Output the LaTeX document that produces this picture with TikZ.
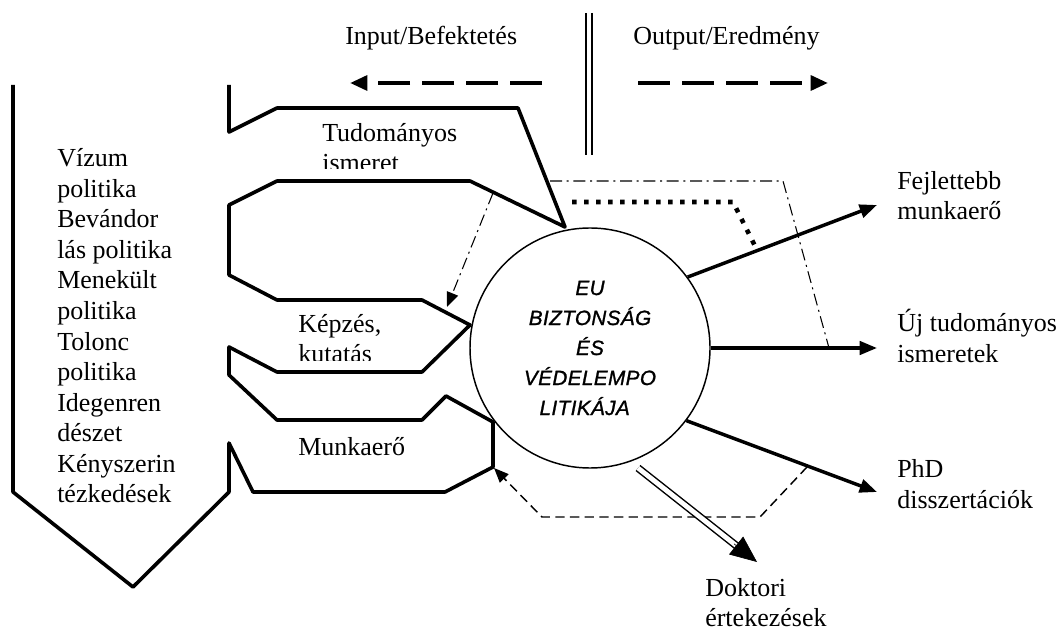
\documentclass[tikz,border=0pt]{standalone}
\usepackage{fontspec}
\setmainfont{Liberation Serif}
\newfontfamily\circfont{Liberation Sans}[LetterSpace=2,FakeBold=1.2]
\usetikzlibrary{arrows.meta,calc}
\begin{document}
\begin{tikzpicture}[x=0.75pt,y=-0.75pt,
  txt/.style={inner sep=0pt, anchor=base west, font=\fontsize{19.5pt}{22.9pt}\selectfont},
  frame/.style={line width=2.7pt, line join=round},
  outarrow/.style={line width=2.6pt, -{Triangle[length=13pt,width=10pt]}},
  hdr/.style={line width=3pt, dash pattern=on 24pt off 9pt, -{Triangle[length=13pt,width=11pt]}},
  dashdot/.style={line width=0.8pt, dash pattern=on 9pt off 3.5pt on 1.5pt off 3.5pt},
  sqdots/.style={line width=3.4pt, dash pattern=on 3.4pt off 5.6pt},
  thindash/.style={line width=1.1pt, dash pattern=on 7pt off 4pt},
]
\useasboundingbox (0,0) rectangle (1062,630);

% header
\node[txt] (tin) at (345,45) {Input/Befektetés};
\node[txt] (tout) at (633,45) {Output/Eredmény};
\coordinate (sepT) at (589,13);
\coordinate (sepB) at (589,155);
\draw[double, double distance=3.6pt, line width=1.1pt] (sepT) -- (sepB);
\coordinate (inS) at (542,83); \coordinate (inE) at (350,83);
\coordinate (outS) at (638,83); \coordinate (outE) at (828,83);
\draw[hdr] (inS) -- (inE);
\draw[hdr] (outS) -- (outE);

% big input frame
\draw[frame] (229,85) -- (229,132) -- (277,108) -- (518,108) -- (565,227) -- (470,181)
  -- (277,181) -- (229,205) -- (229,275) -- (277,300) -- (422,300) -- (470,325)
  -- (422,372) -- (277,372) -- (229,347) -- (229,375) -- (277,420) -- (422,420)
  -- (446,396) -- (493,422) -- (493,467) -- (445,492) -- (253,492) -- (229,443)
  -- (229,492) -- (133,587) -- (13,492) -- (13,85);

% left column
\foreach \t [count=\k from 0] in {Vízum,politika,Bevándor,lás politika,Menekült,politika,Tolonc,politika,Idegenren,dészet,Kényszerin,tézkedések}
  \node[txt] (left\k) at (57,167+30.5*\k) {\t};

% inner labels
\begin{scope}
  \clip (300,110) rectangle (515,169);
  \node[txt] (tud1) at (322,142) {Tudományos};
  \node[txt] (tud2) at (322,172) {ismeret};
\end{scope}
\begin{scope}
  \clip (280,305) rectangle (430,361);
  \node[txt] (kep1) at (298,333) {Képzés,};
  \node[txt] (kep2) at (298,363) {kutatás};
\end{scope}
\node[txt] (munk) at (298,455) {Munkaerő};

% circle
\node[circle, draw, line width=1.1pt, minimum size=180pt, inner sep=0pt, align=center,
  font=\circfont\itshape\fontsize{15.5pt}{22.5pt}\selectfont] (c) at (590,348)
  {EU\\BIZTONSÁG\\ÉS\\VÉDELEMPO\\LITIKÁJA\hspace*{8pt}};

% dash-dot frame and arrow
\coordinate (dd1) at (550,181); \coordinate (dd2) at (783,181); \coordinate (dd3) at (829,348);
\draw[dashdot] (dd1) -- (dd2) -- (dd3);
\coordinate (da1) at (493,193); \coordinate (da2) at (447,307);
\draw[dashdot, -{Triangle[length=11pt,width=9pt]}] (da1) -- (da2);

% square dotted line
\coordinate (sq1) at (572,202); \coordinate (sq2) at (733,202); \coordinate (sq3) at (757,250);
\draw[sqdots] (sq1) -- (sq2) -- (sq3);

% thin dashed feedback
\coordinate (fb1) at (807,467); \coordinate (fb2) at (760,517); \coordinate (fb3) at (542,517); \coordinate (fb4) at (494,468);
\draw[thindash, -{Triangle[length=11pt,width=9pt]}] (fb1) -- (fb2) -- (fb3) -- (fb4);

% output arrows
\coordinate (ftip) at (877,205);
\coordinate (utip) at (877,348);
\coordinate (ptip) at (877,492);
\draw[outarrow] (c.36.6) -- (ftip);
\draw[outarrow] (c.east) -- (utip);
\draw[outarrow] (c.-37.9) -- (ptip);
\coordinate (ds) at (638,468); \coordinate (dt) at (757,562);
\draw[double, double distance=3.6pt, line width=1.1pt, shorten >=16pt] (ds) -- (dt);
\draw[line width=0.5pt, -{Triangle[length=20pt,width=17pt]}] ($(dt)!22pt!(ds)$) -- (dt);

% output labels
\node[txt] (fej1) at (897,190) {Fejlettebb};
\node[txt] (fej2) at (897,220) {munkaerő};
\node[txt] (uj1) at (897,332) {Új tudományos};
\node[txt] (uj2) at (897,363) {ismeretek};
\node[txt] (phd1) at (897,477) {PhD};
\node[txt] (phd2) at (897,508) {disszertációk};
\node[txt] (dok1) at (705,596) {Doktori};
\node[txt] (dok2) at (705,626) {értekezések};
\end{tikzpicture}
\end{document}
